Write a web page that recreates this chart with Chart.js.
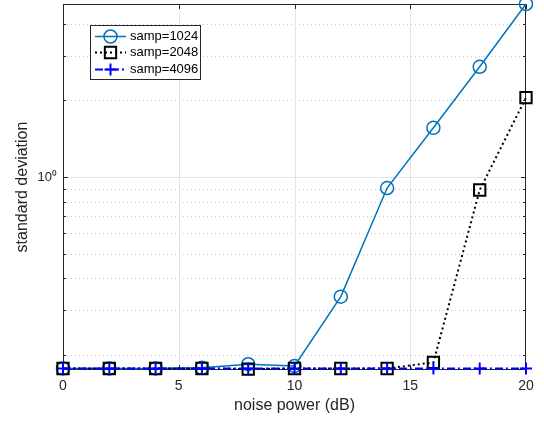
<!DOCTYPE html>
<html>
<head>
<meta charset="utf-8">
<script src="https://cdn.jsdelivr.net/npm/chart.js@4.4.1/dist/chart.umd.min.js"></script>
<style>
  html, body { margin: 0; padding: 0; background: #fff; overflow: hidden; }
  #wrap { width: 544px; height: 427px; margin-top: -6px; }
</style>
</head>
<body>
<div id="wrap"><canvas id="std-chart"></canvas></div>
<script>
const noise_db = [0, 2, 4, 6, 8, 10, 12, 14, 16, 18, 20];
const samp_1024 = [0.177, 0.177, 0.177, 0.178, 0.184, 0.181, 0.339, 0.905, 1.56, 2.71, 4.78];
const samp_2048 = [0.177, 0.177, 0.177, 0.177, 0.176, 0.177, 0.177, 0.177, 0.187, 0.889, 2.05];
const samp_4096 = [0.177, 0.177, 0.177, 0.177, 0.177, 0.177, 0.177, 0.177, 0.177, 0.177, 0.177];
const series_labels = ["samp=1024", "samp=2048", "samp=4096"];
const x_ticks = [0, 5, 10, 15, 20];
const y_ticks = [0.2, 0.3, 0.4, 0.5, 0.6, 0.7, 0.8, 0.9, 1, 2, 3, 4];

const axis_color = "#262626";
const font_family = "'Liberation Sans', Arial, Helvetica, sans-serif";

function to_points(values) {
  return values.map((v, i) => ({ x: noise_db[i], y: v }));
}

// grid, box and inward ticks like matlab
const matlab_axes = {
  id: "matlab_axes",
  beforeDatasetsDraw(chart) {
    const { ctx, chartArea: a, scales } = chart;
    const x = scales.x, y = scales.y;
    ctx.save();
    ctx.lineWidth = 1;
    // y grid
    y_ticks.forEach((v) => {
      const py = Math.round(y.getPixelForValue(v)) + 0.5;
      ctx.beginPath();
      if (v === 1) {
        ctx.setLineDash([]);
        ctx.strokeStyle = "#e3e3e3";
      } else {
        ctx.setLineDash([1, 3]);
        ctx.strokeStyle = "#c8c8c8";
      }
      ctx.moveTo(a.left, py);
      ctx.lineTo(a.right, py);
      ctx.stroke();
    });
    // x grid
    ctx.setLineDash([]);
    ctx.strokeStyle = "#e3e3e3";
    x_ticks.slice(1, -1).forEach((v) => {
      const px = Math.round(x.getPixelForValue(v)) + 0.5;
      ctx.beginPath();
      ctx.moveTo(px, a.top);
      ctx.lineTo(px, a.bottom);
      ctx.stroke();
    });
    // box
    ctx.strokeStyle = axis_color;
    ctx.strokeRect(a.left + 0.5, a.top + 0.5, a.right - a.left - 1, a.bottom - a.top - 1);
    // ticks
    ctx.beginPath();
    y_ticks.forEach((v) => {
      const py = Math.round(y.getPixelForValue(v)) + 0.5;
      const len = v === 1 ? 5 : 3;
      ctx.moveTo(a.left, py);
      ctx.lineTo(a.left + len, py);
      ctx.moveTo(a.right, py);
      ctx.lineTo(a.right - len, py);
    });
    x_ticks.forEach((v) => {
      const px = Math.round(x.getPixelForValue(v)) + 0.5;
      ctx.moveTo(px, a.top);
      ctx.lineTo(px, a.top + 5);
      ctx.moveTo(px, a.bottom);
      ctx.lineTo(px, a.bottom - 5);
    });
    ctx.stroke();
    ctx.restore();
  },
  afterDraw(chart) {
    // legend box (canvas is shifted 6px up)
    const ctx = chart.ctx;
    const bx = 90, by = 31, bw = 110, bh = 54;
    ctx.save();
    ctx.fillStyle = "#fff";
    ctx.fillRect(bx, by, bw, bh);
    ctx.strokeStyle = axis_color;
    ctx.lineWidth = 1;
    ctx.strokeRect(bx + 0.5, by + 0.5, bw, bh);
    const rows = [42, 58, 75];
    chart.data.datasets.forEach((ds, i) => {
      const ry = rows[i] + 0.5;
      ctx.strokeStyle = ds.borderColor;
      ctx.lineWidth = ds.borderWidth;
      ctx.setLineDash(ds.borderDash || []);
      ctx.beginPath();
      ctx.moveTo(95, ry);
      ctx.lineTo(126, ry);
      ctx.stroke();
      ctx.setLineDash([]);
      ctx.fillStyle = "rgba(0,0,0,0)";
      ctx.lineWidth = ds.pointBorderWidth;
      Chart.helpers.drawPoint(ctx, {
        pointStyle: ds.pointStyle,
        radius: ds.pointRadius,
        borderWidth: ds.pointBorderWidth,
        rotation: 0,
      }, 110.5, ry);
      ctx.fillStyle = "#000";
      ctx.font = "13px " + font_family;
      ctx.textBaseline = "middle";
      ctx.fillText(ds.label, 130, ry);
    });
    ctx.restore();
  },
};

const ctx = document.getElementById("std-chart");

new Chart(ctx, {
  type: "line",
  data: {
    datasets: [
      {
        label: series_labels[0],
        data: to_points(samp_1024),
        borderColor: "#0072BD",
        borderWidth: 1.5,
        pointStyle: "circle",
        pointRadius: 6.5,
        pointBorderWidth: 1.5,
        pointBackgroundColor: "rgba(0,0,0,0)",
        tension: 0,
        clip: false,
        order: 3,
      },
      {
        label: series_labels[1],
        data: to_points(samp_2048),
        borderColor: "#000000",
        borderWidth: 2,
        borderDash: [2, 3],
        pointStyle: "rect",
        pointRadius: 8,
        pointBorderWidth: 2,
        pointBackgroundColor: "rgba(0,0,0,0)",
        tension: 0,
        clip: false,
        order: 2,
      },
      {
        label: series_labels[2],
        data: to_points(samp_4096),
        borderColor: "#0000FF",
        borderWidth: 2,
        borderDash: [8, 3, 2, 3],
        pointStyle: "cross",
        pointRadius: 6,
        pointBorderWidth: 2,
        pointBackgroundColor: "rgba(0,0,0,0)",
        tension: 0,
        clip: false,
        order: 1,
      },
    ],
  },
  options: {
    responsive: true,
    maintainAspectRatio: false,
    animation: false,
    layout: { padding: { top: 4, right: 18, left: 0, bottom: 0 } },
    plugins: {
      legend: { display: false },
      tooltip: { enabled: false },
    },
    scales: {
      x: {
        type: "linear",
        min: 0,
        max: 20,
        afterBuildTicks: (scale) => {
          scale.ticks = x_ticks.map((v) => ({ value: v }));
        },
        afterFit: (scale) => {
          scale.height = 51;
          scale.paddingLeft = 0;
          scale.paddingRight = 0;
        },
        grid: { display: false, drawTicks: false },
        border: { display: false },
        ticks: {
          color: axis_color,
          padding: 8,
          maxRotation: 0,
          font: { size: 14, family: font_family },
        },
        title: {
          display: true,
          text: "noise power (dB)",
          color: axis_color,
          padding: { top: 2, bottom: 6 },
          font: { size: 16, family: font_family },
        },
      },
      y: {
        type: "logarithmic",
        min: 0.1746,
        max: 4.78,
        afterBuildTicks: (scale) => {
          scale.ticks = [{ value: 1 }];
        },
        afterFit: (scale) => {
          scale.width = 63;
          scale.paddingTop = 0;
          scale.paddingBottom = 0;
        },
        grid: { display: false, drawTicks: false },
        border: { display: false },
        ticks: {
          color: axis_color,
          padding: 6,
          font: { size: 13, family: font_family },
          callback: (v) => (v === 1 ? "10\u2070" : ""),
        },
        title: {
          display: true,
          text: "standard deviation",
          color: axis_color,
          padding: { top: 13, bottom: 4 },
          font: { size: 16, family: font_family },
        },
      },
    },
  },
  plugins: [matlab_axes],
});
</script>
</body>
</html>
